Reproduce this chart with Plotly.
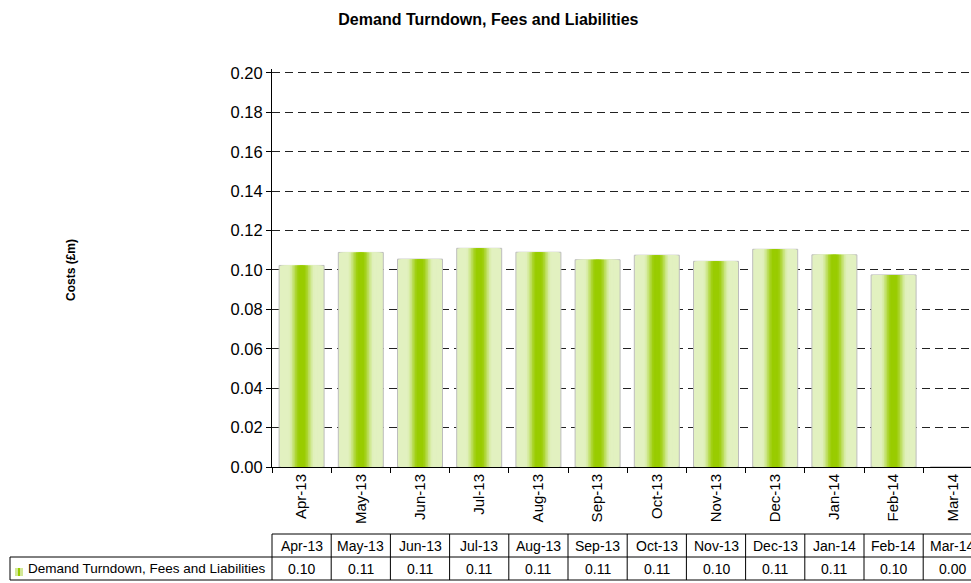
import plotly.graph_objects as go

# ---- data ----
months = ["Apr-13", "May-13", "Jun-13", "Jul-13", "Aug-13", "Sep-13",
          "Oct-13", "Nov-13", "Dec-13", "Jan-14", "Feb-14", "Mar-14"]
costs = [0.1023, 0.1089, 0.1055, 0.1110, 0.1090, 0.1052,
         0.1075, 0.1044, 0.1105, 0.1077, 0.0975, 0.0]
series_name = "Demand Turndown, Fees and Liabilities"
y_ticks = [0.00, 0.02, 0.04, 0.06, 0.08, 0.10, 0.12, 0.14, 0.16, 0.18, 0.20]

# ---- layout geometry ----
W, H = 971, 583
L, T, B = 272, 69, 467
Y_MAX = 0.202
PW, PH = W - L, B - T
CAT_W = 59.2
x_max = -0.5 + PW / CAT_W
FONT = "Liberation Sans, Arial, sans-serif"


def px_x(p):
    return (p - L) / PW


def px_y(p):
    return (B - p) / PH


def lerp(c1, c2, t):
    return "rgb(%d,%d,%d)" % tuple(round(a + (b - a) * t) for a, b in zip(c1, c2))


light = (226, 241, 192)
dark = (153, 204, 0)

fig = go.Figure()

n_layers = 14
bar_w = 0.76
for i in range(n_layers):
    d = 1 - i / n_layers  # normalized half-width
    t = min(max((d - 0.12) / 0.5, 0), 1)
    t = t * t * (3 - 2 * t)
    color = lerp(dark, light, t)
    fig.add_trace(go.Bar(
        x=months, y=costs, width=bar_w * d,
        marker=dict(color=color,
                    line=dict(color="#bdbdbd" if i == 0 else color,
                              width=1 if i == 0 else 0)),
        showlegend=False, hoverinfo="skip",
    ))

fig.update_layout(
    width=W, height=H,
    margin=dict(l=L, r=0, t=T, b=H - B, pad=0),
    paper_bgcolor="white", plot_bgcolor="white",
    barmode="overlay",
    font=dict(family=FONT, color="black"),
    title=dict(text="<b>Demand Turndown, Fees and Liabilities</b>",
               xref="container", x=0.503, xanchor="center",
               yref="container", y=1 - 19 / H, yanchor="middle",
               font=dict(size=16, family=FONT, color="black")),
    xaxis=dict(
        type="category", range=[-0.5, x_max],
        showline=True, linecolor="black", linewidth=1,
        ticks="outside", ticklen=5, tickcolor="black", tickson="boundaries",
        tickangle=-90, tickfont=dict(size=15, family=FONT),
        showgrid=False, zeroline=False,
    ),
    yaxis=dict(
        range=[0, Y_MAX], tickvals=y_ticks, tickformat=".2f",
        showline=True, linecolor="black", linewidth=1,
        ticks="outside", ticklen=5, tickcolor="black",
        tickfont=dict(size=16.5, family=FONT),
        showgrid=True, gridcolor="#222", gridwidth=1, griddash="8px,5px",
        zeroline=False,
    ),
)

# y axis title
fig.add_annotation(text="<b>Costs (£m)</b>", xref="paper", yref="paper",
                   x=px_x(62), y=px_y(270), textangle=-90, showarrow=False,
                   font=dict(size=12, family=FONT, color="black"))

# ---- data table below ----
y_top, y_mid, y_bot = 534, 557, 580
line = dict(color="black", width=1)
n = len(months)
bx = [px_x(L + k * CAT_W) for k in range(n + 1)]
fig.add_shape(type="line", xref="paper", yref="paper",
              x0=0, x1=1.02, y0=px_y(y_top), y1=px_y(y_top), line=line)
for yy in (y_mid, y_bot):
    fig.add_shape(type="line", xref="paper", yref="paper",
                  x0=px_x(10), x1=1.02, y0=px_y(yy), y1=px_y(yy), line=line)
for xb in bx:
    if xb <= 1.0:
        fig.add_shape(type="line", xref="paper", yref="paper",
                      x0=xb, x1=xb, y0=px_y(y_top), y1=px_y(y_bot), line=line)
fig.add_shape(type="line", xref="paper", yref="paper",
              x0=px_x(10), x1=px_x(10), y0=px_y(y_mid), y1=px_y(y_bot), line=line)

for m, v in zip(months, costs):
    fig.add_annotation(text=m, xref="x", yref="paper", x=m,
                       y=px_y((y_top + y_mid) / 2), showarrow=False,
                       xanchor="center", yanchor="middle",
                       font=dict(size=14, family=FONT, color="black"))
    fig.add_annotation(text="%.2f" % v, xref="x", yref="paper", x=m,
                       y=px_y((y_mid + y_bot) / 2), showarrow=False,
                       xanchor="center", yanchor="middle",
                       font=dict(size=14, family=FONT, color="black"))

# legend key
fig.add_shape(type="rect", xref="paper", yref="paper",
              x0=px_x(15), x1=px_x(23), y0=px_y(576), y1=px_y(568),
              fillcolor="rgb(210,232,150)", line=dict(width=0))
fig.add_shape(type="rect", xref="paper", yref="paper",
              x0=px_x(18), x1=px_x(20), y0=px_y(576), y1=px_y(568),
              fillcolor="rgb(153,204,0)", line=dict(width=0))
fig.add_annotation(text=series_name, xref="paper", yref="paper",
                   x=px_x(26), y=px_y((y_mid + y_bot) / 2), showarrow=False,
                   xanchor="left", yanchor="middle",
                   font=dict(size=13.5, family=FONT, color="black"))

fig.write_html(
    "out.html",
    config={"displayModeBar": False},
    post_script="document.body.style.margin='0';document.body.style.overflow='hidden';",
)
